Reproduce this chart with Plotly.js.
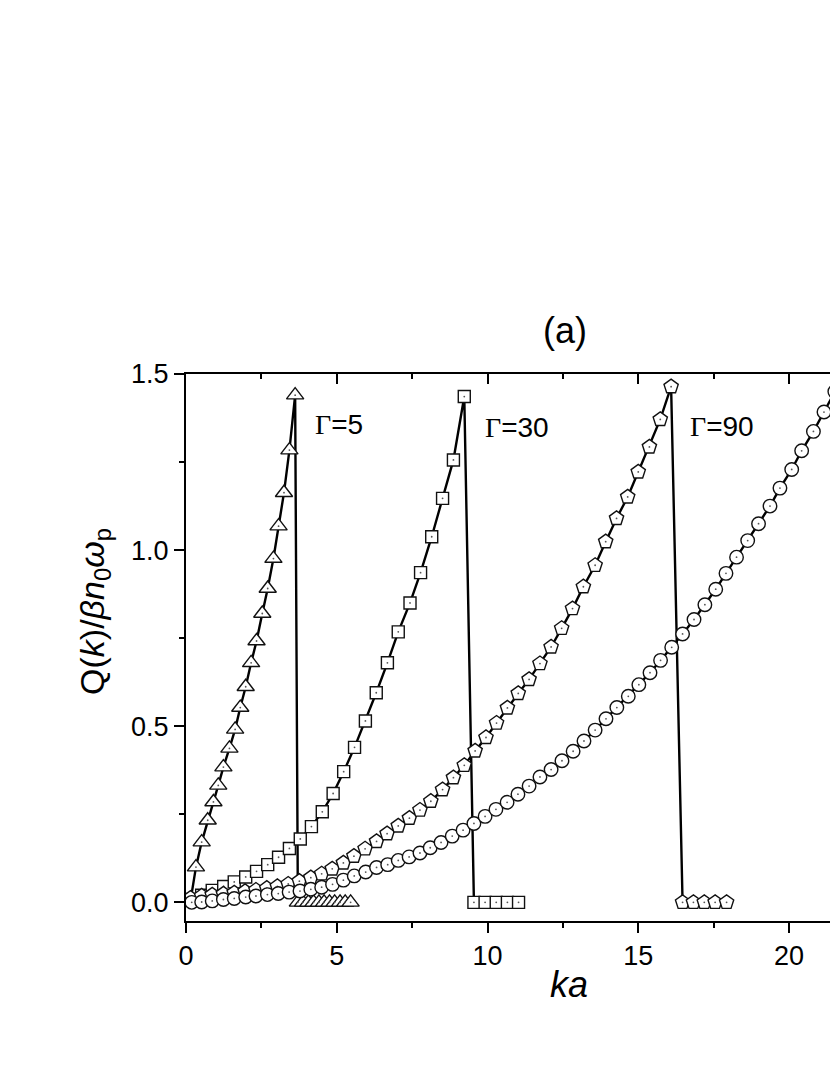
<!DOCTYPE html>
<html>
<head>
<meta charset="utf-8">
<script src="https://cdn.plot.ly/plotly-3.0.1.min.js"></script>
<style>html,body{margin:0;padding:0;background:#fff;}</style>
</head>
<body>
<div id="chart" style="width:830px;height:1075px;"></div>
<script>
// Gamma = 5 (triangles)
const ka_g5 = [0.15, 0.33, 0.52, 0.72, 0.91, 1.07, 1.24, 1.44, 1.63, 1.80, 1.98, 2.16, 2.34, 2.53, 2.71, 2.90, 3.07, 3.25, 3.43, 3.62,
               3.71, 3.88, 4.06, 4.23, 4.41, 4.58, 4.76, 4.93, 5.11, 5.28, 5.46];
const Q_g5  = [0.005, 0.100, 0.171, 0.233, 0.285, 0.332, 0.384, 0.437, 0.491, 0.553, 0.612, 0.680, 0.742, 0.820, 0.891, 0.976, 1.068, 1.163, 1.284, 1.440,
               0, 0, 0, 0, 0, 0, 0, 0, 0, 0, 0];
// Gamma = 30 (squares)
const ka_g30 = [0.15, 0.52, 0.87, 1.25, 1.60, 1.98, 2.34, 2.71, 3.07, 3.43, 3.79, 4.16, 4.52, 4.88, 5.23, 5.59, 5.95, 6.31, 6.68, 7.04,
                7.43, 7.78, 8.15, 8.51, 8.87, 9.23, 9.55, 9.92, 10.29, 10.66, 11.03];
const Q_g30  = [0.008, 0.020, 0.034, 0.045, 0.058, 0.072, 0.088, 0.107, 0.128, 0.153, 0.180, 0.215, 0.257, 0.309, 0.371, 0.440, 0.515, 0.595, 0.680, 0.768,
                0.850, 0.936, 1.038, 1.147, 1.256, 1.436, 0, 0, 0, 0, 0];
// Gamma = 90 (pentagons)
const ka_g90 = [0.15, 0.52, 0.87, 1.24, 1.60, 1.96, 2.32, 2.68, 3.03, 3.39, 3.76, 4.14, 4.50, 4.85, 5.22, 5.57, 5.94, 6.32, 6.67, 7.04,
                7.41, 7.76, 8.12, 8.51, 8.87, 9.23, 9.59, 9.95, 10.30, 10.66, 11.02, 11.38, 11.74, 12.11, 12.46, 12.82, 13.18, 13.57, 13.92, 14.28,
                14.65, 15.00, 15.37, 15.73, 16.09, 16.47, 16.83, 17.19, 17.55, 17.93];
const Q_g90  = [0.012, 0.018, 0.021, 0.024, 0.027, 0.031, 0.035, 0.040, 0.045, 0.052, 0.060, 0.070, 0.081, 0.095, 0.112, 0.131, 0.152, 0.173, 0.195, 0.217,
                0.239, 0.262, 0.287, 0.320, 0.354, 0.389, 0.430, 0.468, 0.509, 0.552, 0.593, 0.633, 0.678, 0.725, 0.778, 0.834, 0.896, 0.957, 1.024, 1.090,
                1.151, 1.222, 1.293, 1.371, 1.464, 0, 0, 0, 0, 0];
// Circles
const ka_c = [0.19, 0.52, 0.87, 1.24, 1.60, 1.98, 2.32, 2.70, 3.06, 3.42, 3.78, 4.14, 4.50, 4.86, 5.22, 5.58, 5.96, 6.32, 6.69, 7.04,
              7.40, 7.76, 8.10, 8.46, 8.83, 9.19, 9.55, 9.92, 10.28, 10.65, 11.01, 11.38, 11.74, 12.11, 12.47, 12.84, 13.20, 13.57, 13.93, 14.29,
              14.67, 15.02, 15.39, 15.74, 16.11, 16.47, 16.85, 17.21, 17.57, 17.91, 18.26, 18.63, 18.99, 19.37, 19.70, 20.09, 20.42, 20.81, 21.16, 21.52];
const Q_c  = [0.000, 0.001, 0.004, 0.008, 0.011, 0.015, 0.018, 0.022, 0.025, 0.029, 0.032, 0.037, 0.043, 0.051, 0.063, 0.075, 0.086, 0.099, 0.107, 0.119,
              0.129, 0.140, 0.155, 0.170, 0.188, 0.205, 0.224, 0.244, 0.264, 0.284, 0.307, 0.330, 0.356, 0.377, 0.402, 0.429, 0.458, 0.489, 0.521, 0.553,
              0.585, 0.618, 0.652, 0.687, 0.724, 0.762, 0.803, 0.845, 0.889, 0.934, 0.980, 1.027, 1.075, 1.125, 1.176, 1.229, 1.282, 1.337, 1.392, 1.450];

const xTicks = [0, 5, 10, 15, 20];
const yTicks = [0, 0.5, 1.0, 1.5];
const yTickText = ['0.0', '0.5', '1.0', '1.5'];
const curveLabels = ['Γ=5', 'Γ=30', 'Γ=90'];
const labelPos = [[4.21, 1.358], [9.85, 1.347], [16.65, 1.352]];

const FONT = 'Liberation Sans, Arial, sans-serif';
const series = [
  {x: ka_g5, y: Q_g5, sym: 'triangle-up', size: 15},
  {x: ka_g30, y: Q_g30, sym: 'square', size: 12},
  {x: ka_g90, y: Q_g90, sym: 'pentagon', size: 15},
  {x: ka_c, y: Q_c, sym: 'circle', size: 13.5}
];
const traces = [];
series.forEach(s => {
  traces.push({
    x: s.x, y: s.y, type: 'scatter', mode: 'lines+markers',
    line: {color: '#000', width: 2.4},
    marker: {symbol: s.sym, size: s.size, color: '#fff', line: {color: '#111', width: 1.4}},
    hoverinfo: 'skip', cliponaxis: true
  });
  traces.push({
    x: s.x, y: s.y, type: 'scatter', mode: 'markers',
    marker: {symbol: 'circle', size: 1.8, color: '#555'},
    hoverinfo: 'skip'
  });
});
traces.push({x: [], y: [], xaxis: 'x2', type: 'scatter', mode: 'markers', hoverinfo: 'skip'});

const xr = [0, 21.36];
const annotations = [
  {text: '(a)', xref: 'paper', yref: 'paper', x: 0.5885, y: 1.080, xanchor: 'center', yanchor: 'middle',
   showarrow: false, font: {family: FONT, size: 36, color: '#000'}},
  {text: '<i>ka</i>', xref: 'paper', yref: 'paper', x: 0.595, y: -0.117, xanchor: 'center', yanchor: 'middle',
   showarrow: false, font: {family: FONT, size: 36, color: '#000'}},
  {text: 'Q(<i>k</i>)/<i>βn</i><sub>0</sub><i>ω</i><sub>p</sub>', xref: 'paper', yref: 'paper', x: -0.1413, y: 0.565,
   xanchor: 'center', yanchor: 'middle', textangle: -90,
   showarrow: false, font: {family: FONT, size: 34, color: '#000'}}
];
curveLabels.forEach((t, i) => {
  annotations.push({
    text: '<span style="font-family:Liberation Serif, Times New Roman, serif">Γ</span>' + t.slice(1),
    x: labelPos[i][0], y: labelPos[i][1], xref: 'x', yref: 'y', xanchor: 'left', yanchor: 'middle',
    showarrow: false, font: {family: FONT, size: 28, color: '#000'}
  });
});

const layout = {
  width: 830, height: 1075,
  margin: {l: 186, r: 0, t: 374, b: 154, pad: 0},
  paper_bgcolor: '#fff', plot_bgcolor: '#fff',
  showlegend: false,
  xaxis: {
    range: xr, tickvals: xTicks, ticktext: xTicks.map(String),
    ticks: 'outside', ticklen: 10, tickwidth: 2, tickcolor: '#000',
    showline: true, linewidth: 2, linecolor: '#000', zeroline: false, showgrid: false,
    minor: {dtick: 2.5, tick0: 0, ticks: 'outside', ticklen: 5, tickwidth: 2, tickcolor: '#000', showgrid: false},
    tickfont: {family: FONT, size: 27, color: '#000'}
  },
  xaxis2: {
    overlaying: 'x', side: 'top', anchor: 'y', range: xr, tickvals: xTicks,
    ticks: 'inside', ticklen: 10, tickwidth: 2, tickcolor: '#000', showticklabels: false,
    showline: true, linewidth: 2, linecolor: '#000', zeroline: false, showgrid: false,
    minor: {dtick: 2.5, tick0: 0, ticks: 'inside', ticklen: 5, tickwidth: 2, tickcolor: '#000', showgrid: false}
  },
  yaxis: {
    range: [-0.053, 1.5], tickvals: yTicks, ticktext: yTickText,
    ticks: 'outside', ticklen: 10, tickwidth: 2, tickcolor: '#000',
    showline: true, linewidth: 2, linecolor: '#000', zeroline: false, showgrid: false,
    minor: {dtick: 0.25, tick0: 0, ticks: 'outside', ticklen: 5, tickwidth: 2, tickcolor: '#000', showgrid: false},
    tickfont: {family: FONT, size: 27, color: '#000'}
  },
  annotations: annotations
};

Plotly.newPlot('chart', traces, layout, {staticPlot: true, displayModeBar: false});
</script>
</body>
</html>
